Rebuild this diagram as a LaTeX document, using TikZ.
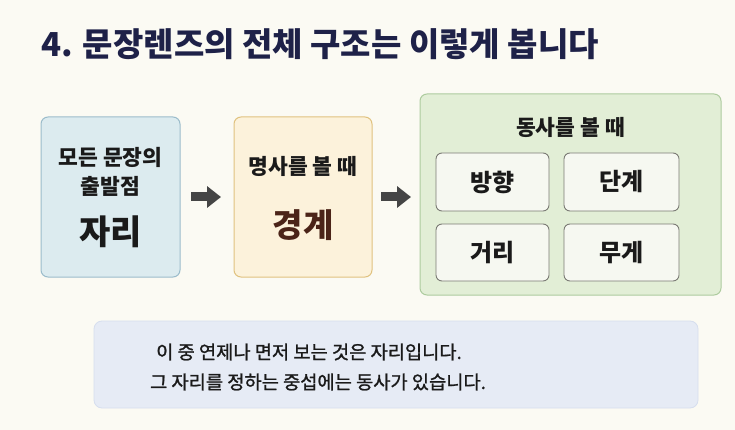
\documentclass[tikz,border=0pt]{standalone}
\usepackage{fontspec}
\setmainfont{Noto Sans CJK KR}
\newfontfamily\krmed[BoldFont={Noto Sans CJK KR},BoldFeatures={FakeBold=1.2}]{Noto Sans CJK KR}
\usetikzlibrary{arrows.meta}
\definecolor{bgc}{HTML}{FBFAF3}
\definecolor{titlec}{HTML}{1E2148}
\definecolor{bluef}{HTML}{DCEBEF}
\definecolor{blued}{HTML}{9BBCCB}
\definecolor{yelf}{HTML}{FCF2DB}
\definecolor{yeld}{HTML}{E0C27F}
\definecolor{grnf}{HTML}{E2EED6}
\definecolor{grnd}{HTML}{ADCB9E}
\definecolor{innerf}{HTML}{F6F8F1}
\definecolor{innerd}{HTML}{7A7A74}
\definecolor{botf}{HTML}{E6EBF5}
\definecolor{botd}{HTML}{D6DEEE}
\definecolor{arrc}{HTML}{454545}
\definecolor{brownc}{HTML}{4B2418}
\definecolor{txtc}{HTML}{1A1A1A}
\tikzset{
  panel/.style={rounded corners=7pt, line width=1pt},
  inner/.style={draw=innerd, fill=innerf, rounded corners=6pt, line width=0.9pt},
  blockarrow/.style={draw=arrc, line width=9pt, -{Triangle[length=14pt,width=21pt]}},
  txt/.style={inner sep=0pt, text=txtc, font=\bfseries},
}
\begin{document}
\begin{tikzpicture}[x=1pt,y=-1pt]
\fill[bgc] (0,0) rectangle (735,430);
\useasboundingbox (0,0) rectangle (735,430);
% title
\node[anchor=west, inner sep=0pt, text=titlec, font=\bfseries\fontsize{33}{36}\selectfont] (title) at (41,44) {4. 문장렌즈의 전체 구조는 이렇게 봅니다};
% box 1
\draw[panel, draw=blued, fill=bluef] (41,117) rectangle (180,277);
\node (b1) at (110.5,197) {};
\node[txt, font=\bfseries\fontsize{21.5}{24}\selectfont] (b1t1) at (110.5,157) {모든 문장의};
\node[txt, font=\bfseries\fontsize{21.5}{24}\selectfont] (b1t2) at (110.5,186) {출발점};
\node[txt, font=\bfseries\fontsize{34}{38}\selectfont] (b1t3) at (110.5,232) {자리};
% box 2
\draw[panel, draw=yeld, fill=yelf] (234,117) rectangle (372,277);
\node (b2) at (303,197) {};
\node[txt, font=\bfseries\fontsize{21.5}{24}\selectfont] (b2t1) at (303,166) {명사를 볼 때};
\node[txt, text=brownc, font=\bfseries\fontsize{33}{36}\selectfont] (b2t2) at (303,225) {경계};
% box 3
\draw[panel, draw=grnd, fill=grnf] (420,94) rectangle (721,295);
\node (b3) at (570.5,197) {};
\node[txt, font=\bfseries\fontsize{21.5}{24}\selectfont] (b3t) at (570.5,127) {동사를 볼 때};
\draw[inner] (436,153) rectangle (549,211);
\node[txt, font=\bfseries\fontsize{24}{27}\selectfont] (v1) at (492.5,182) {방향};
\draw[inner] (564,153) rectangle (679,211);
\node[txt, font=\bfseries\fontsize{24}{27}\selectfont] (v2) at (621.5,182) {단계};
\draw[inner] (436,224) rectangle (549,281);
\node[txt, font=\bfseries\fontsize{24}{27}\selectfont] (v3) at (492.5,252.5) {거리};
\draw[inner] (564,224) rectangle (679,281);
\node[txt, font=\bfseries\fontsize{24}{27}\selectfont] (v4) at (621.5,252.5) {무게};
% arrows
\coordinate (a1s) at (191,197);
\coordinate (a1e) at (221,197);
\coordinate (a2s) at (381,197);
\coordinate (a2e) at (411,197);
\draw[blockarrow] (a1s) -- (a1e);
\draw[blockarrow] (a2s) -- (a2e);
% bottom
\draw[rounded corners=8pt, draw=botd, fill=botf, line width=0.8pt] (94,321) rectangle (698,408);
\node[txt, font=\krmed\bfseries\fontsize{18.7}{21}\selectfont] (l1) at (309,352) {이 중 연제나 면저 보는 것은 자리입니다.};
\node[txt, font=\krmed\bfseries\fontsize{18.7}{21}\selectfont] (l2) at (318,382) {그 자리를 정하는 중섭에는 동사가 있습니다.};
\end{tikzpicture}
\end{document}
